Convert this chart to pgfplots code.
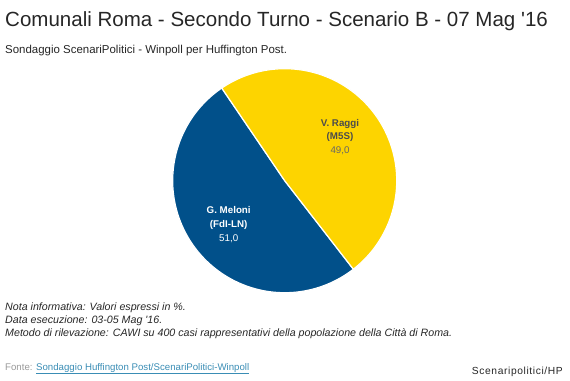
\documentclass[border=0pt]{standalone}
\usepackage{pgfplots}
\pgfplotsset{compat=1.18}
\usetikzlibrary{calc}
\usepackage{fontspec}
\setmainfont{Liberation Sans}[Ligatures=TeXOff]
\definecolor{mblue}{HTML}{01508A}
\definecolor{myellow}{HTML}{FDD400}
\definecolor{linkc}{HTML}{3A8DB5}
% data (percent)
\def\valMeloni{51.0}
\def\valRaggi{49.0}
\def\startAngle{124.2}
\begin{document}
\begin{tikzpicture}[x=1bp,y=1bp]
\pgfmathsetmacro{\aA}{\startAngle}
\pgfmathsetmacro{\aB}{\startAngle+3.6*\valMeloni}
\pgfmathsetmacro{\aC}{\aB+3.6*\valRaggi}
% pie
\begin{axis}[name=pie, anchor=center, width=224bp, height=224bp,
  scale only axis, hide axis, xmin=-1, xmax=1, ymin=-1, ymax=1, clip=false]
\addplot[fill=mblue, draw=white, line width=1.2pt, line join=round, domain=\aA:\aB, samples=150] ({cos(x)},{sin(x)}) -- (axis cs:0,0) -- cycle;
\addplot[fill=myellow, draw=white, line width=1.2pt, line join=round, domain=\aB:\aC, samples=150] ({cos(x)},{sin(x)}) -- (axis cs:0,0) -- cycle;
\node[align=center, font=\fontsize{9.8}{13.8}\selectfont, text=black!70] at (axis cs:0.494,0.39) {\textbf{V. Raggi}\\\textbf{(M5S)}\\{\color{black!60}49,0}};
\node[align=center, font=\fontsize{9.8}{13.8}\selectfont, text=white] at (axis cs:-0.50,-0.39) {\textbf{G. Meloni}\\\textbf{(FdI-LN)}\\51,0};
\end{axis}
\coordinate (O) at ($(pie.center)-(284.7bp,199.3bp)$);
\begin{scope}[shift={(O)}]
\path[use as bounding box] (0,0) rectangle (570,380);
% titles
\node[anchor=base west, inner sep=0, font=\fontsize{20.6}{24}\selectfont, text=black!85] at (5,354) {Comunali Roma - Secondo Turno - Scenario B - 07 Mag '16};
\node[anchor=base west, inner sep=0, font=\fontsize{11.5}{14}\selectfont, text=black!85] at (5,327) {Sondaggio ScenariPolitici - Winpoll per Huffington Post.};
% notes
\node[anchor=base west, inner sep=0, font=\fontsize{10.7}{13}\selectfont\itshape, text=black!85] at (5,70) {Nota informativa: Valori espressi in \%.};
\node[anchor=base west, inner sep=0, font=\fontsize{10.7}{13}\selectfont\itshape, text=black!85] at (5,56.5) {Data esecuzione: 03-05 Mag '16.};
\node[anchor=base west, inner sep=0, font=\fontsize{10.7}{13}\selectfont\itshape, text=black!85] at (5,43.5) {Metodo di rilevazione: CAWI su 400 casi rappresentativi della popolazione della Città di Roma.};
% footer
\node[anchor=base west, inner sep=0, font=\fontsize{9.7}{12}\selectfont] at (5,10) {\textcolor{black!40}{Fonte: }\textcolor{linkc}{\underline{Sondaggio Huffington Post/ScenariPolitici-Winpoll}}};
\node[anchor=base east, inner sep=0, font=\fontsize{10.3}{12}\selectfont\addfontfeatures{LetterSpace=6}, text=black!85] at (563,6) {Scenaripolitici/HP};
\end{scope}
\end{tikzpicture}
\end{document}
